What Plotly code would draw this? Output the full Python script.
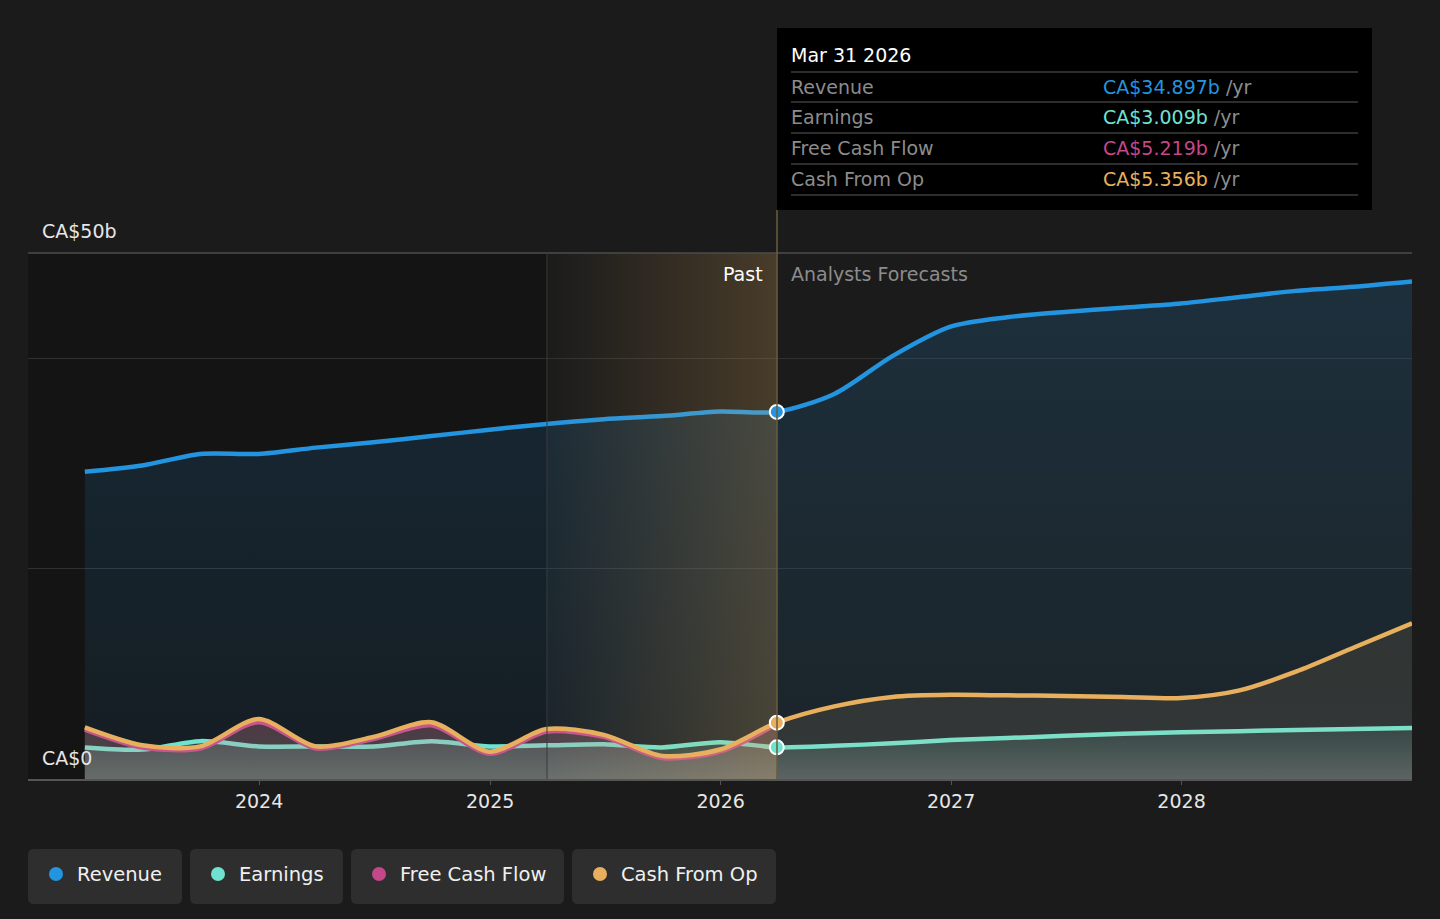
import plotly.graph_objects as go

# quarterly dates: past (to Mar 2026) and analyst forecasts (to Dec 2028)
past_dates = ["2023-03-31", "2023-06-30", "2023-09-30", "2023-12-31",
              "2024-03-31", "2024-06-30", "2024-09-30", "2024-12-31",
              "2025-03-31", "2025-06-30", "2025-09-30", "2025-12-31",
              "2026-03-31"]
fc_dates = ["2026-03-31", "2026-06-30", "2026-09-30", "2026-12-31",
            "2027-03-31", "2027-06-30", "2027-09-30", "2027-12-31",
            "2028-03-31", "2028-06-30", "2028-09-30", "2028-12-31"]

# values in CA$ billions
revenue_past = [29.2, 29.8, 30.9, 30.9, 31.5, 32.0, 32.6, 33.2, 33.75, 34.2, 34.5, 34.93, 34.897]
earnings_past = [3.0, 2.8, 3.6, 3.1, 3.1, 3.1, 3.6, 3.1, 3.2, 3.3, 3.0, 3.5, 3.009]
fcf_past = [4.7, 3.0, 2.9, 5.4, 2.9, 3.8, 5.1, 2.4, 4.5, 4.0, 2.0, 2.6, 5.219]
cfo_past = [4.9, 3.2, 3.1, 5.7, 3.1, 4.0, 5.4, 2.6, 4.75, 4.2, 2.2, 2.8, 5.356]

revenue_fc = [34.897, 36.6, 40.2, 43.0, 43.9, 44.4, 44.8, 45.2, 45.8, 46.4, 46.8, 47.3]
earnings_fc = [3.009, 3.15, 3.4, 3.7, 3.9, 4.1, 4.3, 4.45, 4.55, 4.65, 4.75, 4.85]
cfo_fc = [5.356, 6.9, 7.8, 8.0, 7.95, 7.9, 7.8, 7.7, 8.4, 10.2, 12.5, 14.8]

legend_names = ["Revenue", "Earnings", "Free Cash Flow", "Cash From Op"]
colors = ["#2394df", "#6fe3cf", "#c4478a", "#e8b05e"]
tip_values = ["CA$34.897b", "CA$3.009b", "CA$5.219b", "CA$5.356b"]

FONT = "DejaVu Sans"
W, H = 1440, 919
L, R, T, B = 28, 1412, 253, 779


def px(x):
    return (x - L) / (R - L)


def py(y):
    return (B - y) / (B - T)


def rgba(hexc, a):
    h = hexc.lstrip("#")
    return "rgba(%d,%d,%d,%s)" % (int(h[0:2], 16), int(h[2:4], 16), int(h[4:6], 16), a)


fig = go.Figure()

all_dates = past_dates + fc_dates[1:]
series = [
    (revenue_past + revenue_fc[1:], colors[0], [[0, rgba(colors[0], 0.07)], [1, rgba(colors[0], 0.17)]]),
    (earnings_past + earnings_fc[1:], colors[1], [[0, "rgba(200,215,210,0.28)"], [1, rgba(colors[1], 0.10)]]),
    (fcf_past, colors[2], [[0, "rgba(200,200,200,0.12)"], [1, rgba(colors[2], 0.22)]]),
    (cfo_past + cfo_fc[1:], colors[3], [[0, "rgba(220,200,170,0.12)"], [1, rgba(colors[3], 0.10)]]),
]

for i, (vals, col, grad) in enumerate(series):
    xs = all_dates if len(vals) == len(all_dates) else past_dates
    fig.add_trace(go.Scatter(
        x=xs, y=vals, mode="lines",
        line=dict(color=col, width=4.5, shape="spline", smoothing=0.8),
        fill="tozeroy",
        fillgradient=dict(type="vertical", colorscale=grad, start=0, stop=max(vals)),
        hoverinfo="skip", showlegend=False,
    ))

# past highlight (last year before today)
fig.add_trace(go.Scatter(
    x=["2025-03-31", "2026-03-31", "2026-03-31", "2025-03-31", "2025-03-31"],
    y=[0, 0, 50, 50, 0], mode="lines", line=dict(width=0),
    fill="toself",
    fillgradient=dict(type="horizontal",
                      colorscale=[[0, "rgba(232,176,94,0.0)"], [1, "rgba(232,176,94,0.22)"]]),
    hoverinfo="skip", showlegend=False,
))

# today markers
fig.add_trace(go.Scatter(
    x=["2026-03-31"] * 3, y=[revenue_past[-1], earnings_past[-1], cfo_past[-1]],
    mode="markers",
    marker=dict(size=14, color=[colors[0], colors[1], colors[3]], line=dict(color="white", width=2)),
    hoverinfo="skip", showlegend=False,
))

shapes = [
    # darker past background
    dict(type="rect", xref="paper", yref="paper", x0=0, x1=px(547), y0=0, y1=1,
         fillcolor="rgba(0,0,0,0.25)", line_width=0, layer="below"),
    # top line at 50b
    dict(type="line", xref="paper", yref="paper", x0=0, x1=1, y0=1, y1=1,
         line=dict(color="#4d4d4d", width=1.5)),
    # divider at one year ago
    dict(type="line", xref="paper", yref="paper", x0=px(547), x1=px(547), y0=0, y1=1,
         line=dict(color="#3a3a3a", width=1)),
    # today line
    dict(type="line", xref="paper", yref="paper", x0=px(777), x1=px(777), y0=0, y1=py(210),
         line=dict(color="#6b5c3c", width=1.5)),
    # tooltip box
    dict(type="rect", xref="paper", yref="paper", x0=px(777), x1=px(1372), y0=py(210), y1=py(28),
         fillcolor="#000000", line_width=0),
]
for yy in [72, 102, 133, 164, 195]:
    shapes.append(dict(type="line", xref="paper", yref="paper", x0=px(791), x1=px(1358),
                       y0=py(yy), y1=py(yy), line=dict(color="#3c3c3c", width=1.5)))

annotations = [
    dict(x=px(40), y=py(231), text="CA$50b", font=dict(color="#e6e6e6", size=19)),
    dict(x=px(40), y=py(758), text="CA$0", font=dict(color="#e6e6e6", size=19)),
    dict(x=px(765), y=py(274), text="Past", xanchor="right", font=dict(color="#ffffff", size=19)),
    dict(x=px(789), y=py(274), text="Analysts Forecasts", font=dict(color="#8c8c8c", size=19)),
    dict(x=px(789), y=py(55), text="Mar 31 2026", font=dict(color="#ffffff", size=19)),
]
for k, (nm, val, col) in enumerate(zip(legend_names, tip_values, colors)):
    yy = 87 + k * 30.5
    annotations.append(dict(x=px(789), y=py(yy), text=nm, font=dict(color="#8c8c8c", size=19)))
    annotations.append(dict(x=px(1101), y=py(yy),
                            text="<span style='color:%s'>%s</span> /yr" % (col, val),
                            font=dict(color="#8c8c8c", size=19)))

# custom legend chips
chips = [(28, 182), (190, 343), (351, 564), (572, 776)]
for (x0, x1), nm, col in zip(chips, legend_names, colors):
    r = 6
    y0, y1 = 849, 904
    path = ("M %f,%f L %f,%f Q %f,%f %f,%f L %f,%f Q %f,%f %f,%f L %f,%f Q %f,%f %f,%f L %f,%f Q %f,%f %f,%f Z" % (
        px(x0 + r), py(y0), px(x1 - r), py(y0), px(x1), py(y0), px(x1), py(y0 + r),
        px(x1), py(y1 - r), px(x1), py(y1), px(x1 - r), py(y1),
        px(x0 + r), py(y1), px(x0), py(y1), px(x0), py(y1 - r),
        px(x0), py(y0 + r), px(x0), py(y0), px(x0 + r), py(y0)))
    shapes.append(dict(type="path", xref="paper", yref="paper", path=path,
                       fillcolor="#2e2e2e", line_width=0))
    shapes.append(dict(type="circle", xref="paper", yref="paper",
                       x0=px(x0 + 21), x1=px(x0 + 35), y0=py(867), y1=py(881),
                       fillcolor=col, line_width=0))
    annotations.append(dict(x=px(x0 + 47), y=py(874), text=nm, font=dict(color="#f0f0f0", size=19.5)))

for a in annotations:
    a.update(xref="paper", yref="paper", showarrow=False, yanchor="middle")
    a.setdefault("xanchor", "left")

fig.update_layout(
    width=W, height=H,
    margin=dict(l=L, r=W - R, t=T, b=H - B),
    paper_bgcolor="#1b1b1b", plot_bgcolor="#1b1b1b",
    font=dict(family=FONT, color="#e6e6e6", size=19),
    showlegend=False,
    shapes=shapes, annotations=annotations,
    xaxis=dict(type="date", range=["2022-12-31", "2028-12-31"],
               tickvals=["2024-01-01", "2025-01-01", "2026-01-01", "2027-01-01", "2028-01-01"],
               ticktext=["2024", "2025", "2026", "2027", "2028"],
               showgrid=False, zeroline=False, showline=True, linecolor="#555555", linewidth=1.5,
               ticks="outside", ticklen=4, tickcolor="#555555",
               tickfont=dict(color="#e6e6e6", size=19)),
    yaxis=dict(range=[0, 50], tickvals=[0, 20, 40], showticklabels=False,
               showgrid=True, gridcolor="#303030", gridwidth=1, zeroline=False),
)

fig.write_html("out.html", config={"displayModeBar": False},
               post_script="document.body.style.margin='0';document.body.style.background='#1b1b1b';")
